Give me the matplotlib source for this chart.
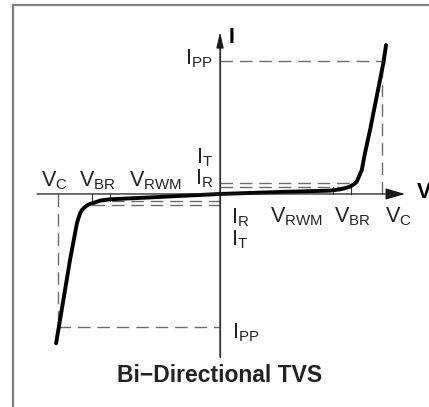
import matplotlib

matplotlib.use("Agg")
import matplotlib.pyplot as plt

plt.rcParams["font.family"] = ["Liberation Sans", "DejaVu Sans"]
plt.rcParams["mathtext.fontset"] = "custom"
plt.rcParams["mathtext.rm"] = "Liberation Sans"
plt.rcParams["mathtext.bf"] = "Liberation Sans:bold"

# --- characteristic levels (normalised: V_C = 1, I_PP = 1) ---
v_c = [-1.0, 1.0]
v_br = [-0.79, 0.81]
v_rwm = [-0.68, 0.70]
i_pp = 1.0
i_t = 0.083
i_r = 0.053

# I-V curve
curve_v = [-1.012, -0.967, -0.926, -0.883, -0.864, -0.852, -0.833, -0.821, -0.802,
           -0.772, -0.741, -0.679, -0.432, 0.0, 0.370, 0.679, 0.741, 0.772, 0.802,
           0.824, 0.844, 0.858, 0.875, 0.895, 0.926, 0.967, 1.008, 1.025]
curve_i = [-1.123, -0.797, -0.496, -0.218, -0.145, -0.120, -0.098, -0.086, -0.075,
           -0.064, -0.050, -0.040, -0.026, 0.0, 0.015, 0.025, 0.035, 0.044, 0.055,
           0.071, 0.092, 0.132, 0.180, 0.308, 0.481, 0.732, 0.983, 1.120]

DASH = "#6b6b6b"
FS = 15.5

fig = plt.figure(figsize=(4.29, 4.07), dpi=100)
ax = fig.add_axes([13 / 429, 0, 416 / 429, 402 / 407])
ax.set_xlim(-1.278, 1.290)
ax.set_ylim(-1.602, 1.421)
ax.set_xticks([])
ax.set_yticks([])
for side in ("right", "bottom"):
    ax.spines[side].set_visible(False)
for side in ("left", "top"):
    ax.spines[side].set_color("#808080")
    ax.spines[side].set_linewidth(1.6)


def dashed(xs, ys):
    ln, = ax.plot(xs, ys, color=DASH, lw=1.0, solid_capstyle="butt")
    ln.set_dashes((9, 5))


# axes with arrows
ax.annotate("", xy=(1.142, 0), xytext=(-1.13, 0),
            arrowprops=dict(arrowstyle="-|>,head_length=1.2,head_width=0.35",
                            color="#1a1a1a", lw=0.9, shrinkA=0, shrinkB=0,
                            mutation_scale=10))
ax.annotate("", xy=(0, 1.218), xytext=(0, -1.226),
            arrowprops=dict(arrowstyle="-|>,head_length=0.95,head_width=0.22",
                            color="#1a1a1a", lw=0.9, shrinkA=0, shrinkB=0,
                            mutation_scale=10))
ax.plot([0, 0], [-1.226, 1.1], color="#555555", lw=0.9)

# dashed guides
dashed([0, v_c[1]], [i_pp, i_pp])
dashed([v_c[1], v_c[1]], [0, i_pp])
dashed([v_c[0], 0], [-i_pp, -i_pp])
dashed([v_c[0], v_c[0]], [0, -i_pp])
for lvl in (i_t, i_r):
    dashed([0, v_br[1]], [lvl, lvl])
    dashed([v_br[0], 0], [-lvl, -lvl])

# small ticks at V_RWM / V_BR
for v in (v_rwm[1], v_br[1]):
    ax.plot([v, v], [0, i_r], color="#333333", lw=0.8)
for v in (v_rwm[0], v_br[0]):
    ax.plot([v, v], [0, -i_r], color="#333333", lw=0.8)

# curve
ax.plot(curve_v, curve_i, color="black", lw=2.8, solid_joinstyle="round",
        solid_capstyle="round")

# labels
tk = dict(fontsize=FS, color="#222222")
ax.text(0.056, 1.18, "I", fontsize=FS, fontweight="bold", ha="left", va="center")
ax.text(1.216, 0.011, "V", fontsize=FS, fontweight="bold", ha="left", va="center")
ax.text(-0.049, 1.015, r"$\mathrm{I_{PP}}$", ha="right", va="center", **tk)
ax.text(0.074, -1.04, r"$\mathrm{I_{PP}}$", ha="left", va="center", **tk)

ax.text(-1.02, 0.102, r"$\mathrm{V_{C}}$", ha="center", va="center", **tk)
ax.text(-0.756, 0.102, r"$\mathrm{V_{BR}}$", ha="center", va="center", **tk)
ax.text(-0.398, 0.102, r"$\mathrm{V_{RWM}}$", ha="center", va="center", **tk)
ax.text(-0.10, 0.112, r"$\mathrm{I_{R}}$", ha="center", va="center", **tk)
ax.text(-0.096, 0.275, r"$\mathrm{I_{T}}$", ha="center", va="center", **tk)

ax.text(0.123, -0.175, r"$\mathrm{I_{R}}$", ha="center", va="center", **tk)
ax.text(0.123, -0.345, r"$\mathrm{I_{T}}$", ha="center", va="center", **tk)
ax.text(0.469, -0.169, r"$\mathrm{V_{RWM}}$", ha="center", va="center", **tk)
ax.text(0.82, -0.169, r"$\mathrm{V_{BR}}$", ha="center", va="center", **tk)
ax.text(1.10, -0.169, r"$\mathrm{V_{C}}$", ha="center", va="center", **tk)

ax.text(0, -1.414, "Bi\u2212Directional TVS", fontsize=16.5, fontweight="bold",
        ha="center", va="baseline", color="#222222")

fig.savefig("out.png", dpi=100)
